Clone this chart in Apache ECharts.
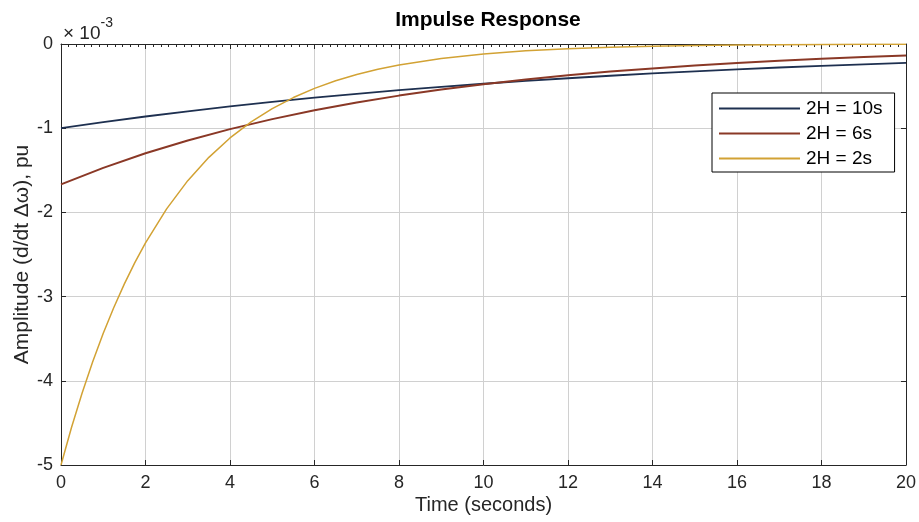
<!DOCTYPE html>
<html>
<head>
<meta charset="utf-8">
<script src="https://cdn.jsdelivr.net/npm/echarts@6/dist/echarts.min.js"></script>
<style>html,body{margin:0;padding:0;background:#fff;}#c{width:919px;height:522px;}</style>
</head>
<body>
<div id="c"></div>
<script>
// Values in units of 10^-3 pu (as displayed on the y axis)
const t10 = [0,1,2,3,4,5,6,7,8,9,10,11,12,13,14,15,16,17,18,19,20];
const h10 = [-1.000,-0.928,-0.861,-0.799,-0.741,-0.687,-0.638,-0.592,-0.549,-0.509,-0.472,-0.438,-0.407,-0.377,-0.350,-0.325,-0.301,-0.279,-0.259,-0.241,-0.223];
const t6 = [0,1,2,3,4,5,6,7,8,9,10,11,12,13,14,15,16,17,18,19,20];
const h6 = [-1.667,-1.471,-1.298,-1.146,-1.011,-0.892,-0.787,-0.695,-0.613,-0.541,-0.478,-0.421,-0.372,-0.328,-0.290,-0.256,-0.226,-0.199,-0.176,-0.155,-0.137];
const t2 = [0,0.25,0.5,0.75,1,1.25,1.5,1.75,2,2.5,3,3.5,4,4.5,5,5.5,6,6.5,7,7.5,8,9,10,11,12,13,14,15,16,17,18,19,20];
const h2 = [-5.000,-4.552,-4.145,-3.774,-3.436,-3.129,-2.849,-2.594,-2.362,-1.958,-1.623,-1.346,-1.116,-0.925,-0.767,-0.636,-0.527,-0.437,-0.362,-0.300,-0.249,-0.171,-0.118,-0.081,-0.056,-0.038,-0.026,-0.018,-0.012,-0.009,-0.006,-0.004,-0.003];
const seriesNames = ['2H = 10s','2H = 6s','2H = 2s'];
const seriesColors = ['#1e3050','#8a3826','#d2a234'];
const xTicks = [0,2,4,6,8,10,12,14,16,18,20];
const yTicks = [-5,-4,-3,-2,-1,0];

const FONT = '"Liberation Sans", Arial, Helvetica, sans-serif';
const pair = (xs, ys) => xs.map((x, i) => [x, ys[i]]);
const chart = echarts.init(document.getElementById('c'), null, {renderer: 'canvas'});
const axisLineStyle = {color: '#262626', width: 1};
chart.setOption({
  backgroundColor: '#ffffff',
  animation: false,
  title: {
    text: 'Impulse Response', left: 483, top: 5, textAlign: 'center',
    textStyle: {fontFamily: FONT, fontSize: 21, fontWeight: 'bold', color: '#000'}
  },
  grid: {left: 61, right: 13, top: 44, bottom: 57, containLabel: false, outerBoundsMode: 'none'},
  legend: {
    orient: 'vertical', left: 712, top: 93,
    data: seriesNames.map(n => ({name: n})),
    itemWidth: 81, itemHeight: 14, itemGap: 6,
    padding: [6, 12, 4, 6],
    borderColor: '#000', borderWidth: 1, borderRadius: 0,
    backgroundColor: '#ffffff',
    itemStyle: {color: 'transparent', borderWidth: 0, opacity: 0},
    textStyle: {fontFamily: FONT, fontSize: 19, color: '#000', padding: [0, 0, 0, 1]}
  },
  xAxis: [{
    type: 'value', min: xTicks[0], max: xTicks[xTicks.length - 1], interval: 2,
    name: 'Time (seconds)', nameLocation: 'middle', nameGap: 30, nameMoveOverlap: false,
    nameTextStyle: {fontFamily: FONT, fontSize: 20, color: '#262626'},
    axisLine: {show: true, onZero: false, lineStyle: axisLineStyle},
    axisTick: {show: true, inside: true, length: 5, lineStyle: axisLineStyle},
    axisLabel: {fontFamily: FONT, fontSize: 18, color: '#262626', margin: 9},
    splitLine: {show: true, lineStyle: {color: '#d0d0d0', width: 1}}
  }, {
    type: 'value', position: 'top', min: xTicks[0], max: xTicks[xTicks.length - 1], interval: 2,
    axisLine: {show: true, onZero: false, lineStyle: axisLineStyle},
    axisTick: {show: true, inside: true, length: 5, lineStyle: axisLineStyle},
    minorTick: {show: true, splitNumber: 11, length: 3, lineStyle: {color: '#262626', width: 1}},
    axisLabel: {show: false},
    splitLine: {show: false}
  }],
  yAxis: [{
    type: 'value', min: yTicks[0], max: yTicks[yTicks.length - 1], interval: 1,
    name: 'Amplitude (d/dt Δω), pu', nameLocation: 'middle', nameGap: 28, nameRotate: 90, nameMoveOverlap: false,
    nameTextStyle: {fontFamily: FONT, fontSize: 21, color: '#262626'},
    axisLine: {show: true, onZero: false, lineStyle: axisLineStyle},
    axisTick: {show: true, inside: true, length: 5, lineStyle: axisLineStyle},
    axisLabel: {fontFamily: FONT, fontSize: 18, color: '#262626', margin: 8},
    splitLine: {show: true, lineStyle: {color: '#d0d0d0', width: 1}}
  }, {
    type: 'value', position: 'right', min: yTicks[0], max: yTicks[yTicks.length - 1], interval: 1,
    axisLine: {show: true, onZero: false, lineStyle: axisLineStyle},
    axisTick: {show: true, inside: true, length: 5, lineStyle: axisLineStyle},
    axisLabel: {show: false},
    splitLine: {show: false}
  }],
  graphic: [{
    type: 'text', left: 63, top: 16,
    style: {
      text: '{a|× 10}{b|-3}',
      rich: {
        a: {fontFamily: FONT, fontSize: 19, fill: '#262626', padding: [8, 0, 0, 0]},
        b: {fontFamily: FONT, fontSize: 14, fill: '#262626', verticalAlign: 'top', padding: [0, 0, 10, 0]}
      }
    }
  }],
  series: [
    {name: seriesNames[0], type: 'line', data: pair(t10, h10), showSymbol: false, symbol: 'none', smooth: false,
     lineStyle: {color: seriesColors[0], width: 1.8}, itemStyle: {color: seriesColors[0]}},
    {name: seriesNames[1], type: 'line', data: pair(t6, h6), showSymbol: false, symbol: 'none', smooth: false,
     lineStyle: {color: seriesColors[1], width: 2}, itemStyle: {color: seriesColors[1]}},
    {name: seriesNames[2], type: 'line', data: pair(t2, h2), showSymbol: false, symbol: 'none', smooth: false,
     lineStyle: {color: seriesColors[2], width: 1.5}, itemStyle: {color: seriesColors[2]}}
  ]
});
</script>
</body>
</html>
